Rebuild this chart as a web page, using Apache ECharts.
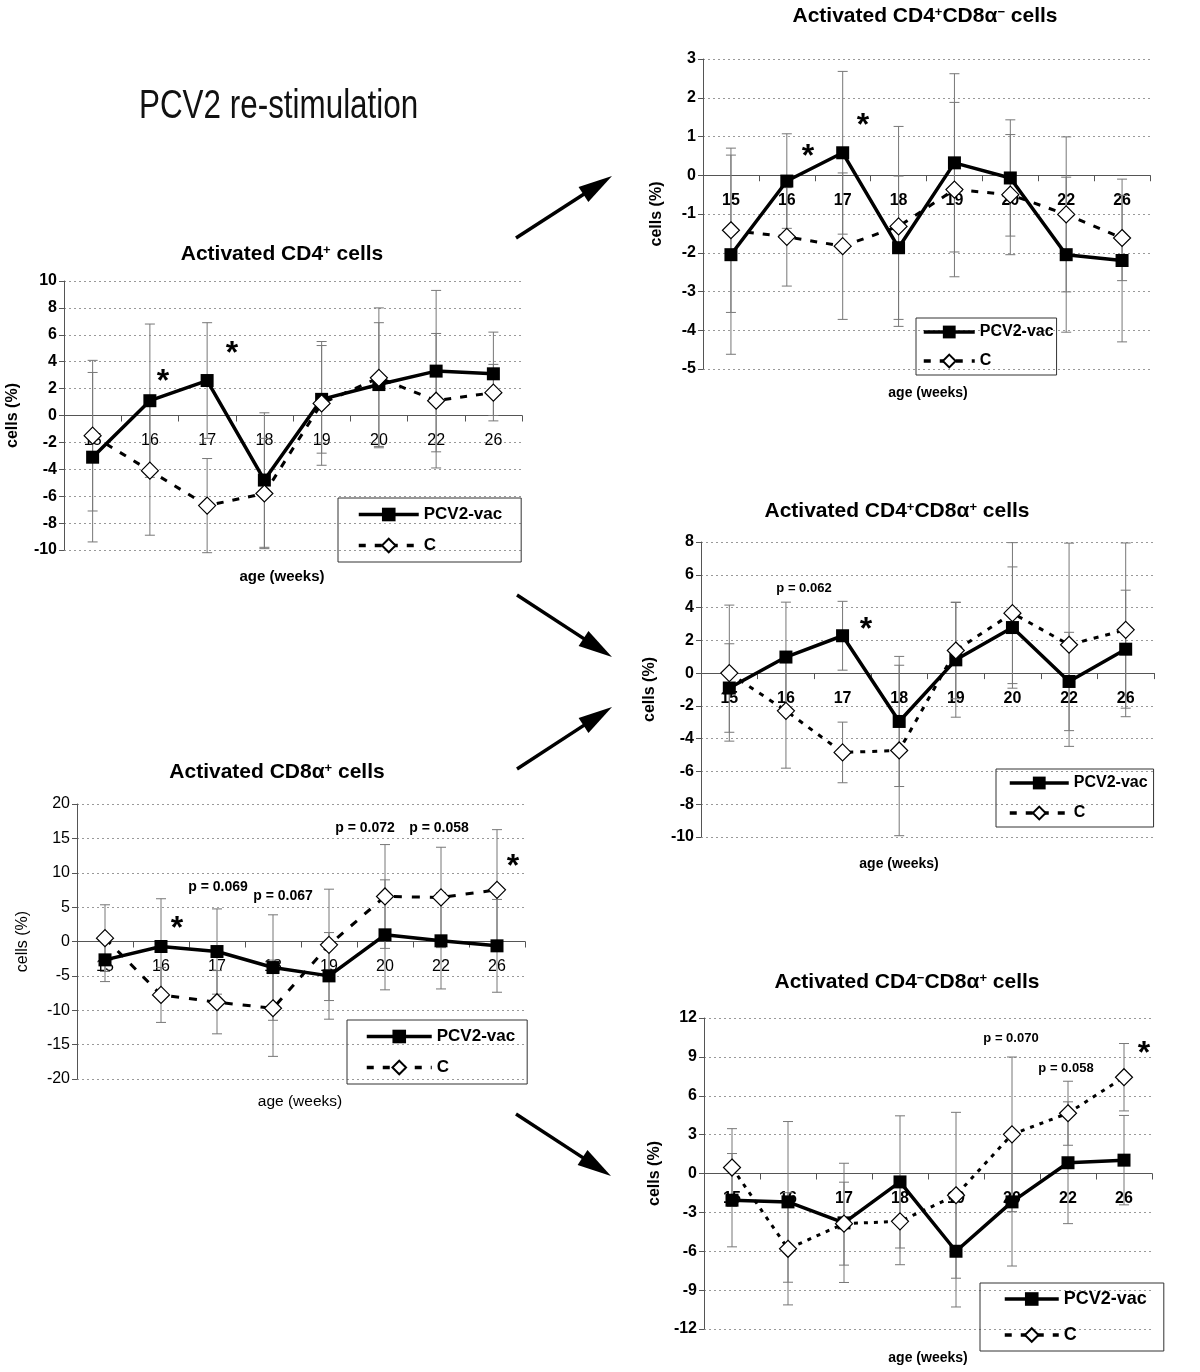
<!DOCTYPE html>
<html><head><meta charset="utf-8">
<script src="https://cdn.jsdelivr.net/npm/echarts@6/dist/echarts.min.js"></script>
<style>html,body{margin:0;padding:0;background:#fff}#c{width:1200px;height:1372px}</style>
</head><body><div id="c"></div>
<script>
// ---------- data ----------
const categories = ['15','16','17','18','19','20','22','26'];

// Activated CD4+ cells
const cd4_vac    = [-3.1, 1.1, 2.6, -4.8, 1.2, 2.3, 3.3, 3.1];
const cd4_vac_sd = [6.3, 5.7, 4.3, 5.0, 4.0, 4.6, 6.0, 3.1];
const cd4_c      = [-1.5, -4.1, -6.7, -5.8, 0.9, 2.8, 1.1, 1.7];
const cd4_c_sd   = [5.6, 4.8, 3.5, 4.1, 4.6, 5.2, 5.0, 2.1];

// Activated CD4+CD8a- cells
const cd4p8n_vac    = [-2.05, -0.15, 0.58, -1.87, 0.32, -0.07, -2.05, -2.2];
const cd4p8n_vac_sd = [2.57, 1.22, 2.1, 1.85, 2.3, 1.5, 2.0, 2.1];
const cd4p8n_c      = [-1.42, -1.59, -1.83, -1.32, -0.37, -0.5, -1.01, -1.62];
const cd4p8n_c_sd   = [2.12, 1.27, 1.89, 2.58, 2.25, 1.55, 2.0, 1.1];

// Activated CD4+CD8a+ cells
const cd4p8p_vac    = [-0.91, 0.98, 2.28, -2.95, 0.81, 2.78, -0.51, 1.46];
const cd4p8p_vac_sd = [2.7, 3.35, 2.1, 3.97, 3.5, 3.7, 3.0, 3.6];
const cd4p8p_c      = [0.0, -2.3, -4.84, -4.72, 1.38, 3.66, 1.73, 2.64];
const cd4p8p_c_sd   = [4.15, 3.5, 1.85, 5.2, 2.95, 4.3, 6.2, 5.3];

// Activated CD8a+ cells
const cd8_vac    = [-2.67, -0.73, -1.46, -3.79, -5.0, 0.97, 0.1, -0.63];
const cd8_vac_sd = [3.16, 6.95, 6.2, 7.67, 6.3, 8.0, 7.0, 6.75];
const cd8_c      = [0.49, -7.77, -8.83, -9.71, -0.49, 6.55, 6.41, 7.52];
const cd8_c_sd   = [4.85, 4.0, 4.6, 7.0, 8.1, 7.55, 7.3, 8.75];

// Activated CD4-CD8a+ cells
const cd4n8p_vac    = [-2.06, -2.19, -3.81, -0.65, -6.0, -2.19, 0.83, 1.03];
const cd4n8p_vac_sd = [3.6, 6.2, 4.6, 5.1, 4.3, 4.95, 4.7, 3.45];
const cd4n8p_c      = [0.46, -5.81, -3.87, -3.69, -1.68, 3.02, 4.65, 7.43];
const cd4n8p_c_sd   = [3.0, 4.33, 3.2, 3.35, 6.4, 5.97, 2.47, 2.6];

const titles = [
  '{t|Activated CD4}{s|+}{t| cells}',
  '{t|Activated CD4}{s|+}{t|CD8α}{s|−}{t| cells}',
  '{t|Activated CD4}{s|+}{t|CD8α}{s|+}{t| cells}',
  '{t|Activated CD8α}{s|+}{t| cells}',
  '{t|Activated CD4}{s|−}{t|CD8α}{s|+}{t| cells}'
];
const vacSets = [cd4_vac, cd4p8n_vac, cd4p8p_vac, cd8_vac, cd4n8p_vac];
const vacSds  = [cd4_vac_sd, cd4p8n_vac_sd, cd4p8p_vac_sd, cd8_vac_sd, cd4n8p_vac_sd];
const cSets   = [cd4_c, cd4p8n_c, cd4p8p_c, cd8_c, cd4n8p_c];
const cSds    = [cd4_c_sd, cd4p8n_c_sd, cd4p8p_c_sd, cd8_c_sd, cd4n8p_c_sd];

// ---------- layout / style ----------
const F = '"Liberation Sans", Arial, Helvetica, sans-serif';
const L = [
  {left:64,  top:281,  width:458, height:269, min:-10, max:10, interval:2, yW:'bold',   xW:'normal', nW:'bold',   xName:[282,577,15], yGap:43, dash:[7,9],
   title:[282,244], legend:{left:338, top:498, iw:60, ih:17, gap:14, fs:17, pad:[8,19,8,19]}},
  {left:703, top:59,   width:447, height:310, min:-5,  max:3,  interval:1, yW:'bold',   xW:'bold',   nW:'bold',   xName:[928,393,14], yGap:38, dash:[7,9],
   title:[925,6],   legend:{left:916, top:318, iw:51, ih:16, gap:13, fs:16, pad:[6,3,6,6]}},
  {left:701, top:542,  width:453, height:295, min:-10, max:8,  interval:2, yW:'bold',   xW:'bold',   nW:'bold',   xName:[899,864,14], yGap:43, dash:[5,7],
   title:[897,501], legend:{left:996, top:769, iw:59, ih:16, gap:14, fs:16, pad:[6,6,6,12]}},
  {left:77,  top:804,  width:448, height:275, min:-20, max:20, interval:5, yW:'normal', xW:'normal', nW:'normal', xName:[300,1102,15.5], yGap:46, dash:[8,10],
   title:[277,762], legend:{left:347, top:1020, iw:65, ih:17, gap:14, fs:17, pad:[8,12,8,18]}},
  {left:704, top:1018, width:448, height:311, min:-12, max:12, interval:3, yW:'bold',   xW:'bold',   nW:'bold',   xName:[928,1358,14], yGap:41, dash:[4,6],
   title:[907,972], legend:{left:980, top:1283, iw:54, ih:17, gap:18, fs:18, pad:[7,17,7,23]}}
];

const grids = [], xAxes = [], yAxes = [], series = [], titleArr = [], legends = [];
function errSeries(i, vals, sds) {
  return {
    type: 'custom', xAxisIndex: i, yAxisIndex: i, z: 1, silent: true, name: 'err' + i,
    data: vals.map((v, k) => [k, v, sds[k]]),
    encode: { x: 0, y: 1 },
    renderItem: function (params, api) {
      const x = api.value(0), v = api.value(1), s = api.value(2);
      const t = api.coord([x, v + s]), b = api.coord([x, v - s]);
      const w = 5, st = { stroke: '#777', lineWidth: 1 };
      return { type: 'group', children: [
        { type: 'line', shape: { x1: t[0], y1: t[1], x2: b[0], y2: b[1] }, style: st },
        { type: 'line', shape: { x1: t[0] - w, y1: t[1], x2: t[0] + w, y2: t[1] }, style: st },
        { type: 'line', shape: { x1: b[0] - w, y1: b[1], x2: b[0] + w, y2: b[1] }, style: st }
      ]};
    }
  };
}
// category labels that sit just below the zero line (as in the original)
function labelSeries(i, p) {
  return {
    type: 'custom', xAxisIndex: i, yAxisIndex: i, z: 0, silent: true, name: 'lbl' + i,
    data: categories.map((c, k) => [k, 0]),
    encode: { x: 0, y: 1 },
    renderItem: function (params, api) {
      const pt = api.coord([api.value(0), api.value(1)]);
      return { type: 'text', x: pt[0], y: pt[1] + 25, style: {
        text: categories[params.dataIndex], fontSize: 16, fontWeight: p.xW, fontFamily: F,
        fill: '#000', align: 'center', verticalAlign: 'middle' } };
    }
  };
}

L.forEach((p, i) => {
  grids.push({ left: p.left, top: p.top, width: p.width, height: p.height, containLabel: false, outerBoundsMode: 'none' });
  xAxes.push({
    type: 'category', gridIndex: i, data: categories, boundaryGap: true,
    axisLine: { onZero: true, lineStyle: { color: '#555', width: 1 } },
    axisTick: { show: true, interval: 0, length: 6, lineStyle: { color: '#555' } },
    axisLabel: { show: false },
    splitLine: { show: false }
  });
  yAxes.push({
    type: 'value', gridIndex: i, min: p.min, max: p.max, interval: p.interval,
    axisLine: { show: true, onZero: false, lineStyle: { color: '#555', width: 1 } },
    axisTick: { show: true, length: 5, lineStyle: { color: '#555' } },
    axisLabel: { margin: 7, fontSize: 16, fontWeight: p.yW, fontFamily: F, color: '#000' },
    splitLine: { show: true, lineStyle: { color: '#999', type: [2, 3], width: 1 } },
    name: 'cells (%)', nameLocation: 'middle', nameGap: p.yGap, nameRotate: 90,
    nameTextStyle: { fontSize: 16, fontWeight: p.nW, fontFamily: F, color: '#000' }
  });
  series.push(labelSeries(i, p));
  series.push(errSeries(i, vacSets[i], vacSds[i]));
  series.push(errSeries(i, cSets[i], cSds[i]));
  series.push({
    name: 'PCV2-vac', type: 'line', xAxisIndex: i, yAxisIndex: i, data: vacSets[i], z: 3,
    symbol: 'rect', symbolSize: 13, itemStyle: { color: '#000' },
    lineStyle: { color: '#000', width: 3.5 }
  });
  series.push({
    name: 'C', type: 'line', xAxisIndex: i, yAxisIndex: i, data: cSets[i], z: 4,
    symbol: 'diamond', symbolSize: 17,
    itemStyle: { color: '#fff', borderColor: '#000', borderWidth: 1.2 },
    lineStyle: { color: '#000', width: 3, type: p.dash }
  });
  titleArr.push({
    text: titles[i], left: p.title[0], top: p.title[1], textAlign: 'center', padding: 0,
    textStyle: { rich: {
      t: { fontSize: 21, fontWeight: 'bold', fontFamily: F, color: '#000' },
      s: { fontSize: 13, fontWeight: 'bold', fontFamily: F, color: '#000', verticalAlign: 'top', padding: [0, 0, 4, 0] }
    } }
  });
  const lg = p.legend;
  legends.push({
    left: lg.left, top: lg.top, orient: 'vertical', data: ['PCV2-vac', 'C'],
    itemWidth: lg.iw, itemHeight: lg.ih, itemGap: lg.gap, padding: lg.pad,
    borderColor: '#333', borderWidth: 1, selectedMode: false,
    lineStyle: { width: 3.5 },
    textStyle: { fontSize: lg.fs, fontWeight: 'bold', fontFamily: F, color: '#000' }
  });
});

// ---------- annotations ----------
function arrow(x1, y1, x2, y2) {
  const dx = x2 - x1, dy = y2 - y1, len = Math.hypot(dx, dy), ux = dx / len, uy = dy / len;
  const hl = 34, hw = 9, bx = x2 - ux * hl, by = y2 - uy * hl;
  return [
    { type: 'line', shape: { x1: x1, y1: y1, x2: bx + ux * 4, y2: by + uy * 4 }, style: { stroke: '#000', lineWidth: 3.5 } },
    { type: 'polygon', shape: { points: [[x2, y2], [bx - uy * hw, by + ux * hw], [bx + uy * hw, by - ux * hw]] }, style: { fill: '#000' } }
  ];
}
function txt(x, y, s, fs, w) {
  return { type: 'text', x: x, y: y, style: { text: s, fontSize: fs, fontWeight: w, fontFamily: F, fill: '#000', align: 'center', verticalAlign: 'middle' } };
}
function star(x, y) { return txt(x, y + 7, '*', 32, 'bold'); }
const graphics = [].concat(
  [{ type: 'text', x: 139, y: 107, scaleX: 0.785, style: { text: 'PCV2 re-stimulation', fontSize: 40, fontFamily: F, fill: '#111', verticalAlign: 'middle' } }],
  arrow(516, 238, 612, 176), arrow(517, 595, 612, 657), arrow(517, 769, 612, 707), arrow(516, 1114, 611, 1176),
  L.map(p => txt(p.xName[0], p.xName[1], 'age (weeks)', p.xName[2], p.nW)),
  [star(163, 375), star(232, 347), star(808, 150), star(863, 119), star(866, 623), star(177, 922), star(513, 860), star(1144, 1047),
   txt(804, 588, 'p = 0.062', 13, 'bold'),
   txt(218, 887, 'p = 0.069', 14, 'bold'), txt(283, 896, 'p = 0.067', 14, 'bold'), txt(365, 828, 'p = 0.072', 14, 'bold'), txt(439, 828, 'p = 0.058', 14, 'bold'),
   txt(1011, 1038, 'p = 0.070', 13, 'bold'), txt(1066, 1068, 'p = 0.058', 13, 'bold')]
);

const chart = echarts.init(document.getElementById('c'));
chart.setOption({
  animation: false, backgroundColor: '#fff',
  title: titleArr, legend: legends, grid: grids, xAxis: xAxes, yAxis: yAxes, series: series,
  graphic: graphics
});
</script></body></html>
